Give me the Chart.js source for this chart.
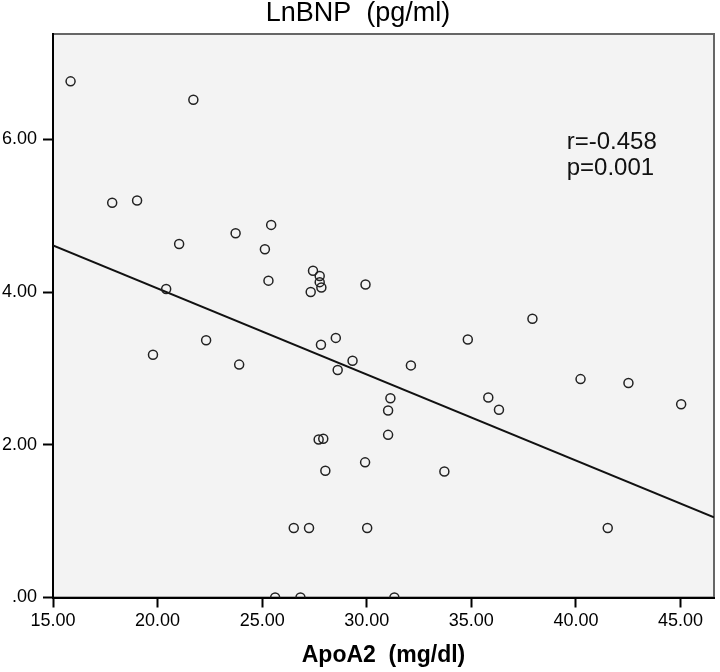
<!DOCTYPE html>
<html>
<head>
<meta charset="utf-8">
<script src="https://cdn.jsdelivr.net/npm/chart.js@4/dist/chart.umd.min.js"></script>
<style>
  html, body { margin: 0; padding: 0; background: #fff; }
  #wrap { width: 720px; height: 672px; position: relative; }
</style>
</head>
<body>
<div id="wrap"><canvas id="chart"></canvas></div>
<script>
// ── DATA ─────────────────────────────────────────────
const apoA2 = [
  15.84, 21.71, 17.83, 19.02, 21.03, 23.73, 25.43, 25.13, 25.30, 20.41,
  27.43, 27.75, 27.75, 27.83, 27.32, 29.94, 19.78, 22.32, 23.90, 27.81,
  28.52, 29.32, 28.61, 32.11, 34.83, 31.13, 31.02, 31.02, 27.70, 27.92,
  29.92, 28.02, 33.71, 26.51, 27.24, 30.02, 25.62, 26.83, 31.32, 37.92,
  40.22, 42.51, 45.03, 35.81, 36.32, 41.52
];
const lnBNP = [
  6.76, 6.52, 5.17, 5.20, 4.63, 4.77, 4.88, 4.56, 4.15, 4.04,
  4.28, 4.21, 4.13, 4.06, 4.00, 4.10, 3.18, 3.37, 3.05, 3.31,
  3.40, 3.10, 2.98, 3.04, 3.38, 2.61, 2.45, 2.13, 2.07, 2.08,
  1.77, 1.66, 1.65, 0.91, 0.91, 0.91, 0.00, 0.00, 0.00, 3.65,
  2.86, 2.81, 2.53, 2.62, 2.46, 0.91
];
// fit line end points
const fitX = [15.0, 46.6];
const fitY = [4.61, 1.05];

const xTicks = [15, 20, 25, 30, 35, 40, 45];
const yTicks = [0, 2, 4, 6];
const statLines = ['r=-0.458', 'p=0.001'];
const statPos = { x: 39.56, y: [5.96, 5.62] };

const font = "'Liberation Sans', Arial, sans-serif";
const fmt = v => v === 0 ? '.00' : v.toFixed(2);

// plot area background + grey frame, stats text
const framePlugin = {
  id: 'frame',
  beforeDraw(chart) {
    const { ctx, chartArea: a } = chart;
    ctx.save();
    ctx.fillStyle = '#f3f3f3';
    ctx.fillRect(a.left, a.top, a.right - a.left, a.bottom - a.top);
    ctx.strokeStyle = '#666';
    ctx.lineWidth = 2;
    ctx.strokeRect(a.left, a.top, a.right - a.left, a.bottom - a.top);
    ctx.restore();
  },
  afterDraw(chart) {
    const { ctx, scales: { x, y } } = chart;
    ctx.save();
    ctx.fillStyle = '#111';
    ctx.font = `24px ${font}`;
    ctx.textAlign = 'left';
    ctx.textBaseline = 'middle';
    statLines.forEach((t, i) => {
      ctx.fillText(t, x.getPixelForValue(statPos.x), y.getPixelForValue(statPos.y[i]));
    });
    ctx.restore();
  }
};

const axisCommon = {
  grid: { display: true, drawOnChartArea: false, drawTicks: true, tickLength: 10, tickColor: '#000', tickWidth: 2 },
  border: { display: true, color: '#000', width: 2 },
};

new Chart(document.getElementById('chart'), {
  data: {
    datasets: [
      {
        type: 'scatter',
        data: apoA2.map((v, i) => ({ x: v, y: lnBNP[i] })),
        pointStyle: 'circle',
        pointRadius: 4.5,
        pointBorderWidth: 1.5,
        pointBorderColor: '#222',
        pointBackgroundColor: 'rgba(0,0,0,0)',
        clip: 0,
      },
      {
        type: 'line',
        data: fitX.map((v, i) => ({ x: v, y: fitY[i] })),
        borderColor: '#111',
        borderWidth: 2,
        pointRadius: 0,
        fill: false,
        clip: 0,
      },
    ],
  },
  options: {
    responsive: true,
    maintainAspectRatio: false,
    animation: false,
    layout: { padding: { left: 0, right: 4, top: 0, bottom: 0 } },
    plugins: {
      legend: { display: false },
      tooltip: { enabled: false },
      title: {
        display: true,
        text: 'LnBNP  (pg/ml)',
        color: '#000',
        font: { family: font, size: 27, weight: 'normal', lineHeight: 1 },
        padding: { top: 0, bottom: 7 },
      },
    },
    scales: {
      x: {
        type: 'linear',
        min: 15, max: 46.6,
        ...axisCommon,
        afterFit: s => { s.height = 74.5; },
        afterBuildTicks: s => { s.ticks = xTicks.map(v => ({ value: v })); },
        ticks: { color: '#000', font: { family: font, size: 18 }, padding: 3, maxRotation: 0, includeBounds: false, callback: fmt },
        title: {
          display: true,
          text: 'ApoA2  (mg/dl)',
          color: '#000',
          font: { family: font, size: 23, weight: 'bold' },
          padding: { top: 0, bottom: 3 },
        },
      },
      y: {
        type: 'linear',
        min: 0, max: 7.38,
        ...axisCommon,
        afterFit: s => { s.width = 53; },
        afterBuildTicks: s => { s.ticks = yTicks.map(v => ({ value: v })); },
        ticks: { color: '#000', font: { family: font, size: 18 }, padding: 6, includeBounds: false, callback: fmt },
      },
    },
  },
  plugins: [framePlugin],
});
</script>
</body>
</html>
